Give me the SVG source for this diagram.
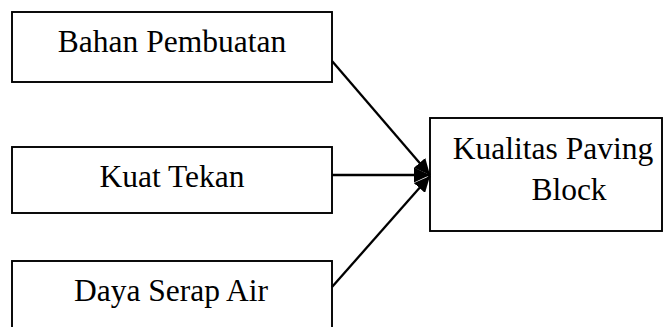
<svg xmlns="http://www.w3.org/2000/svg" width="663" height="327" viewBox="0 0 663 327">
  <defs>
    <style>
      .box { fill: #ffffff; stroke: #000000; stroke-width: 1.9; }
      .label { font-family: "Liberation Serif", "Times New Roman", serif; font-size: 31.5px; fill: #000000; text-anchor: middle; }
      .edge { stroke: #000000; stroke-width: 2.3; fill: none; marker-end: url(#arrow); }
    </style>
    <marker id="arrow" markerUnits="userSpaceOnUse" markerWidth="17" markerHeight="15" refX="16" refY="7.5" orient="auto">
      <path d="M0,0 L16,7.5 L0,15 Z" fill="#000000"/>
    </marker>
  </defs>
  <rect width="663" height="327" fill="#ffffff"/>

  <g id="bahan-pembuatan">
    <rect class="box" x="12" y="12" width="320" height="70"/>
    <text class="label" x="172" y="52">Bahan Pembuatan</text>
  </g>

  <g id="kuat-tekan">
    <rect class="box" x="12" y="147" width="320" height="66"/>
    <text class="label" x="172" y="187">Kuat Tekan</text>
  </g>

  <g id="daya-serap-air">
    <rect class="box" x="12" y="261" width="320" height="90"/>
    <text class="label" x="171" y="301">Daya Serap Air</text>
  </g>

  <g id="kualitas-paving-block">
    <rect class="box" x="430" y="118" width="232" height="113"/>
    <text class="label" x="553" y="159">Kualitas Paving</text>
    <text class="label" x="569" y="200">Block</text>
  </g>

  <g id="connectors">
    <line class="edge" x1="332" y1="61" x2="430" y2="175"/>
    <line class="edge" x1="332" y1="175" x2="430" y2="175"/>
    <line class="edge" x1="332" y1="287" x2="430" y2="176"/>
  </g>
</svg>
